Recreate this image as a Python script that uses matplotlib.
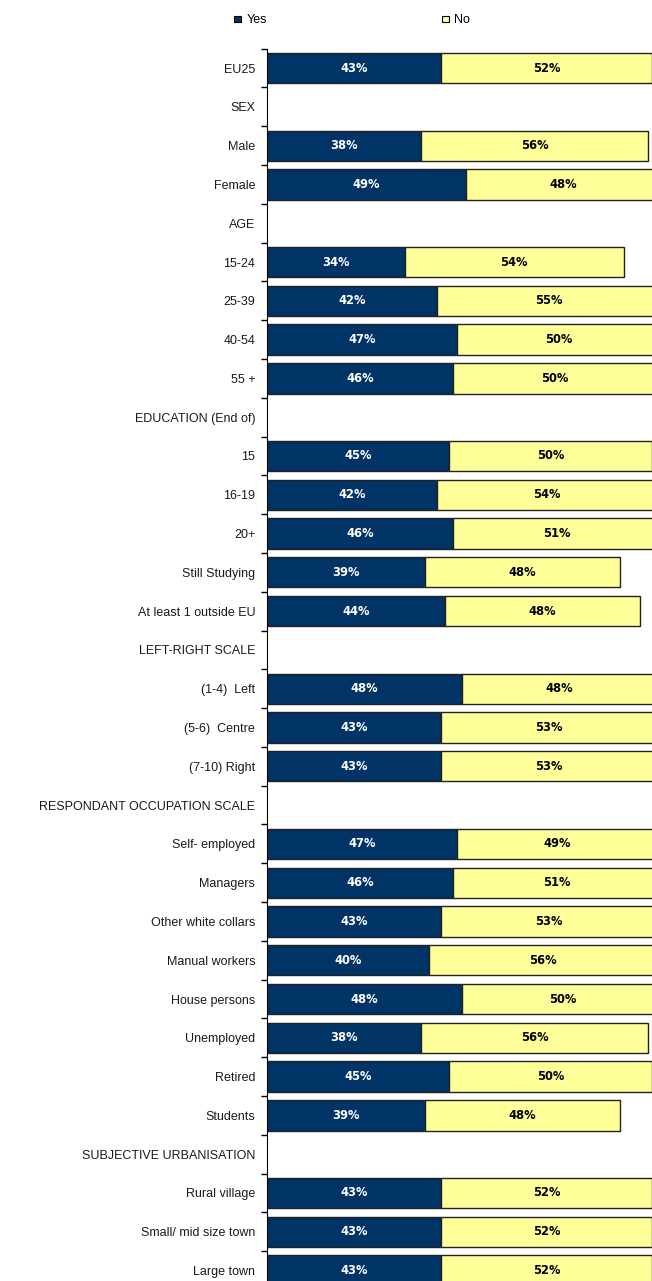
import numpy as np
import matplotlib.pyplot as plt
from matplotlib.patches import Patch

plt.rcParams['font.family'] = ['Liberation Sans', 'DejaVu Sans']

labels = ['EU25', 'SEX', 'Male', 'Female', 'AGE', '15-24', '25-39', '40-54', '55 +',
          'EDUCATION (End of)', '15', '16-19', '20+', 'Still Studying', 'At least 1 outside EU',
          'LEFT-RIGHT SCALE', '(1-4)  Left', '(5-6)  Centre', '(7-10) Right',
          'RESPONDANT OCCUPATION SCALE', 'Self- employed', 'Managers', 'Other white collars',
          'Manual workers', 'House persons', 'Unemployed', 'Retired', 'Students',
          'SUBJECTIVE URBANISATION', 'Rural village', 'Small/ mid size town', 'Large town']
nan = np.nan
yes = [43, nan, 38, 49, nan, 34, 42, 47, 46, nan, 45, 42, 46, 39, 44, nan, 48, 43, 43,
       nan, 47, 46, 43, 40, 48, 38, 45, 39, nan, 43, 43, 43]
no = [52, nan, 56, 48, nan, 54, 55, 50, 50, nan, 50, 54, 51, 48, 48, nan, 48, 53, 53,
      nan, 49, 51, 53, 56, 50, 56, 50, 48, nan, 52, 52, 52]

navy = '#003366'
yellow = '#FFFF99'

fig = plt.figure(figsize=(6.52, 12.81), dpi=100)
ax = fig.add_axes([0.4095, -0.007, 0.5905, 0.969])

y = np.arange(len(labels))
yes_a = np.array(yes, dtype=float)
no_a = np.array(no, dtype=float)
m = ~np.isnan(yes_a)

ax.barh(y[m], yes_a[m], height=0.78, color=navy, edgecolor='#222222', linewidth=1)
ax.barh(y[m], no_a[m], left=yes_a[m], height=0.78, color=yellow, edgecolor='#222222', linewidth=1)

# value labels (wider font to get closer to the spaced-out look of the original)
for yi, a, b in zip(y[m], yes_a[m], no_a[m]):
    ax.text(a / 2, yi, f'{a:.0f}%', ha='center', va='center', color='white',
            fontsize=8.3, fontweight='bold', family='DejaVu Sans')
    ax.text(a + b / 2, yi, f'{b:.0f}%', ha='center', va='center', color='black',
            fontsize=8.3, fontweight='bold', family='DejaVu Sans', clip_on=True)

ax.set_xlim(0, 95)
ax.set_ylim(len(labels) - 0.5, -0.5)
ax.set_yticks(y)
ax.set_yticklabels(labels, fontsize=9, color='#1a1a1a')
ax.tick_params(axis='y', which='major', length=0, pad=8.5)
ax.set_yticks(np.arange(-0.5, len(labels), 1), minor=True)
ax.tick_params(axis='y', which='minor', length=4, width=1, color='black')
ax.set_xticks([])
for s in ['top', 'right', 'bottom']:
    ax.spines[s].set_visible(False)
ax.spines['left'].set_color('black')

handles = [Patch(facecolor=navy, edgecolor='black', linewidth=0.8),
           Patch(facecolor=yellow, edgecolor='black', linewidth=0.8)]
fig.legend(handles, ['Yes', 'No'], loc='center left', bbox_to_anchor=(0.3416, 0.984),
           ncol=2, frameon=False, fontsize=9, handlelength=0.6, handleheight=0.45,
           handletextpad=0.4, columnspacing=14.0)

fig.savefig('out.png', dpi=100)
